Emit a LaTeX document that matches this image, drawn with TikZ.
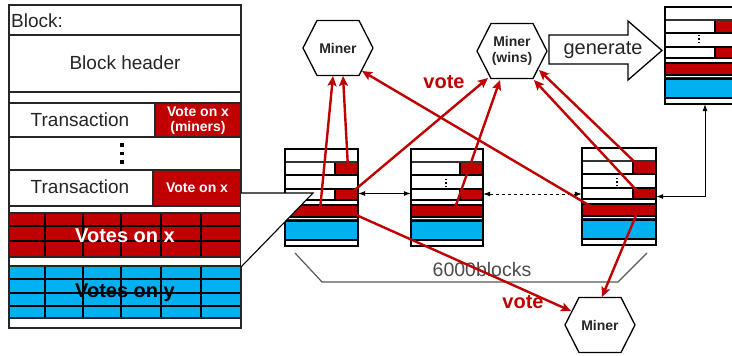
\documentclass[tikz,border=0pt]{standalone}
\usepackage{fontspec}
\setmainfont{Liberation Sans}
\usetikzlibrary{arrows.meta,calc}
\definecolor{vred}{HTML}{C00000}
\definecolor{vblue}{HTML}{00B0F0}
\definecolor{txtgray}{HTML}{262626}
\definecolor{navyline}{HTML}{1F2A44}
\tikzset{
  blk/.style={draw=black,line width=1.1pt},
  bigline/.style={draw=black!85,line width=1.2pt},
  gridline/.style={draw=black,line width=1.1pt},
  hexline/.style={draw=black,line width=1.3pt,fill=white},
  hexnode/.style={inner sep=0pt,minimum width=70pt,minimum height=55pt,font=\bfseries\fontsize{14}{16}\selectfont,align=center,text=txtgray},
  vote/.style={vred,line width=2.4pt,-{Stealth[length=10pt,width=9pt,inset=2pt]}},
  barrow/.style={black,line width=0.8pt,{Latex[length=7pt,width=5pt]}-{Latex[length=7pt,width=5pt]}},
  votelbl/.style={text=vred,font=\bfseries\fontsize{20}{22}\selectfont,inner sep=0pt},
  bigtxt/.style={text=txtgray,font=\fontsize{19}{22}\selectfont,inner sep=0pt},
}
\newcommand\sblock[4]{%
\begin{scope}[shift={(#1,#2)}]
 \fill[white] (0,0) rectangle (#3,97);
 \fill[vred] ({#3-23},14) rectangle (#3,26);
 \fill[vred] ({#3-23},40) rectangle (#3,51);
 \fill[vred] (0,56) rectangle (#3,68);
 \fill[vblue] (0,72) rectangle (#3,91);
 \draw[line width=1.8pt,black!80] (0,13) -- (#3,13);
 \draw[blk] (0,26) -- (#3,26) (0,40) -- (#3,40) (0,51) -- (#3,51);
 \draw[blk] ({#3-23},14) -- ({#3-23},26) ({#3-23},40) -- ({#3-23},51);
 \draw[blk] (0,56) rectangle (#3,68);
 \draw[line width=1.6pt,navyline] (0,71) -- (#3,71);
 \draw[blk] (0,72) rectangle (#3,91);
 \draw[blk] (0,0) rectangle (#3,97);
 \node[inner sep=0pt,minimum width=#3pt,minimum height=97pt] (#4) at ({#3/2},48.5) {};
\end{scope}}
\newcommand\sdots[2]{%
 \fill[black] ({#1-0.9},{#2-4.4}) rectangle ({#1+0.9},{#2-2.6});
 \fill[black] ({#1-0.9},{#2-0.9}) rectangle ({#1+0.9},{#2+0.9});
 \fill[black] ({#1-0.9},{#2+2.6}) rectangle ({#1+0.9},{#2+4.4});}
\newcommand\hexaround[1]{%
 \draw[hexline] ([xshift=-35pt]#1.center) -- ([xshift=-21pt,yshift=27.5pt]#1.center) -- ([xshift=21pt,yshift=27.5pt]#1.center) -- ([xshift=35pt]#1.center) -- ([xshift=21pt,yshift=-27.5pt]#1.center) -- ([xshift=-21pt,yshift=-27.5pt]#1.center) -- cycle;}
\begin{document}
\begin{tikzpicture}[x=1pt,y=-1pt]
\useasboundingbox (0,0) rectangle (732,356);
\clip (0,0) rectangle (732,356);
\fill[white] (0,0) rectangle (732,356);

% ---------- big block ----------
\fill[vred] (155,103) rectangle (241,137);
\fill[vred] (153,170) rectangle (241,206);
\fill[vred] (9,213) rectangle (241,257);
\fill[vblue] (9,266) rectangle (241,318);
\draw[gridline] (9,226) -- (241,226) (9,241) -- (241,241);
\draw[gridline] (9,279) -- (241,279) (9,293) -- (241,293) (9,306) -- (241,306);
\foreach \cx in {45,83,121,161,201}{
  \draw[gridline] (\cx,213) -- (\cx,257);
  \draw[gridline] (\cx,266) -- (\cx,318);
}
\draw[bigline] (9,213) rectangle (241,257);
\draw[bigline] (9,266) rectangle (241,318);
\draw[bigline] (9,35) -- (241,35) (9,92) -- (241,92) (9,103) -- (241,103)
  (9,137) -- (241,137) (9,170) -- (241,170) (9,206) -- (241,206);
\draw[bigline] (155,103) -- (155,137) (153,170) -- (153,206);
\draw[bigline] (9,5) rectangle (241,328);
\fill[black] (120.3,143.3) rectangle (123.7,146.7);
\fill[black] (120.3,151.8) rectangle (123.7,155.2);
\fill[black] (120.3,160.3) rectangle (123.7,163.7);

\node[bigtxt,anchor=west] (blocklbl) at (11,21) {Block:};
\node[bigtxt] (hdr) at (125,63) {Block header};
\node[bigtxt] (tx1) at (80,120) {Transaction};
\node[bigtxt] (tx2) at (80,187) {Transaction};
\node[text=white,font=\bfseries\fontsize{14}{15}\selectfont,align=center,inner sep=0pt] (vx1) at (198,120.5) {Vote on x\\(miners)};
\node[text=white,font=\bfseries\fontsize{14}{15}\selectfont,inner sep=0pt] (vx2) at (197,188) {Vote on x};
\node[text=white,font=\bfseries\fontsize{20}{22}\selectfont,inner sep=0pt] (vsx) at (125,236) {Votes on x};
\node[text=black,font=\bfseries\fontsize{20}{22}\selectfont,inner sep=0pt] (vsy) at (125,293) {Votes on y};

% ---------- small blocks ----------
\sblock{285}{149}{73}{b1}
\sblock{411}{149}{72}{b2}
\sdots{446}{183}
\sblock{582}{148}{74}{b3}
\sdots{617}{182}
\sblock{665}{7}{73}{b4}
\sdots{699}{39}

% callout
\filldraw[fill=white,draw=black,line width=1.1pt] (241,193) -- (313,193) -- (241,267);

% block links
\draw[barrow] ([yshift=4pt]b1.east) -- ([yshift=4pt]b1.east -| b2.west);
\draw[barrow,dashed] ([yshift=3.5pt]b2.east) -- ([yshift=3.5pt]b2.east -| b3.west);
\draw[barrow] ([xshift=3.5pt]b4.south) |- (b3.east);

% brace + label
\draw[black!65,line width=1.2pt] (295,253) -- (322,282) -- (618,282) -- (647,253);
\node[text=black!70,font=\fontsize{19.5}{22}\selectfont,inner sep=0pt] (span) at (482,270) {6000blocks};

% ---------- miners ----------
\node[hexnode] (m1) at (338,48) {};
\hexaround{m1}
\node[hexnode] at (m1) {Miner};
\node[hexnode] (m2) at (512,51) {};
\hexaround{m2}
\node[hexnode] at (m2) {Miner\\(wins)};
\node[hexnode] (m3) at (600,325) {};
\hexaround{m3}
\node[hexnode] at (m3) {Miner};

% generate arrow
\draw[line width=1.3pt,fill=white] (549,35) -- (628,35) -- (628,21) -- (662,50.5) -- (628,80) -- (628,64) -- (549,64) -- cycle;
\node[text=txtgray,font=\fontsize{20}{22}\selectfont,inner sep=0pt] (gen) at (603,50) {generate};

% ---------- vote arrows ----------
\coordinate (a1s) at (320,210); \coordinate (a1e) at (333,76);
\coordinate (a2s) at (348,168); \coordinate (a2e) at (343,76);
\coordinate (a3s) at (350,194); \coordinate (a3e) at (488,78);
\coordinate (a4s) at (455,208); \coordinate (a4e) at (500,80);
\coordinate (a5s) at (592,207); \coordinate (a5e) at (362,71);
\coordinate (a6s) at (642,169); \coordinate (a6e) at (539,70);
\coordinate (a7s) at (640,194); \coordinate (a7e) at (534,80);
\coordinate (a8s) at (345,210); \coordinate (a8e) at (571,311);
\coordinate (a9s) at (637,213); \coordinate (a9e) at (602,297);
\foreach \i in {1,...,9}{\draw[vote] (a\i s) -- (a\i e);}

\node[votelbl] (vote1) at (444,82) {vote};
\node[votelbl] (vote2) at (523,302) {vote};
\end{tikzpicture}
\end{document}
